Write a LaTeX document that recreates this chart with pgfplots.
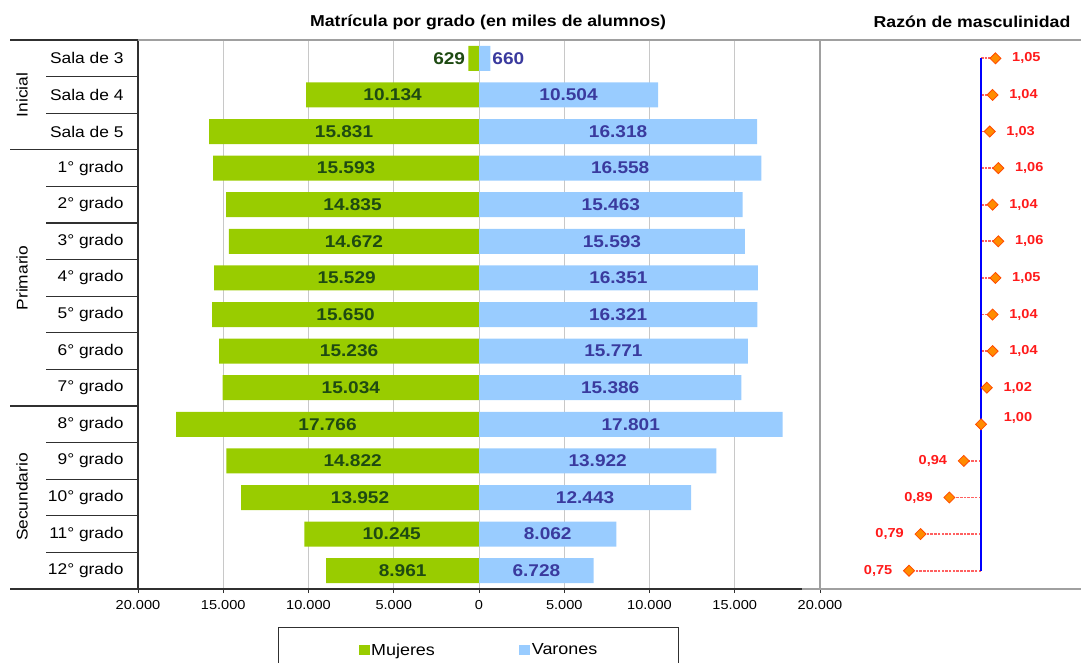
\documentclass[border=0pt]{standalone}
\usepackage{pgfplots}
\pgfplotsset{compat=1.18}
\usepackage{pgfplotstable}
\usepackage{fontspec}
\setmainfont{Liberation Sans}[FakeStretch=1.12]

\definecolor{muj}{HTML}{99CC00}
\definecolor{var}{HTML}{99CCFF}
\definecolor{mujtxt}{HTML}{1E4A12}
\definecolor{vartxt}{HTML}{3A3A9E}
\definecolor{gridc}{HTML}{C8C8C8}
\definecolor{framec}{HTML}{A0A0A0}
\definecolor{dark}{HTML}{303030}
\definecolor{ratio}{HTML}{FF1A1A}
\definecolor{mk}{HTML}{FF8C00}
\definecolor{mkedge}{HTML}{FF4A00}
\definecolor{dashc}{HTML}{FF6060}

% matricula por grado: M = mujeres, H = varones
\pgfplotstableread{
row M H
0 629 660
1 10134 10504
2 15831 16318
3 15593 16558
4 14835 15463
5 14672 15593
6 15529 16351
7 15650 16321
8 15236 15771
9 15034 15386
10 17766 17801
11 14822 13922
12 13952 12443
13 10245 8062
14 8961 6728
}\matricula

% razon de masculinidad
\pgfplotstableread{
row r
0 1.05
1 1.04
2 1.03
3 1.06
4 1.04
5 1.06
6 1.05
7 1.04
8 1.04
9 1.02
}\razonalta
\pgfplotstableread{
row r
11 0.94
12 0.89
13 0.79
14 0.75
}\razonbaja

\tikzset{
  lbl/.style={font=\bfseries\fontsize{17}{18}\selectfont},
  rz/.style={font=\bfseries\fontsize{13}{14}\selectfont, text=ratio},
}
\pgfplotsset{
  /pgf/number format/assume math mode=true,
  rzmark/.style={only marks, mark=square*, mark size=3.9pt,
    mark options={rotate=45, fill=mk, draw=mkedge, line width=0.8pt},
    nodes near coords, point meta=explicit,
    /pgf/number format/fixed, /pgf/number format/fixed zerofill,
    /pgf/number format/precision=2, /pgf/number format/use comma},
  dashl/.style={dashc, line width=1.8pt, dash pattern=on 2.5pt off 1.2pt},
}

\begin{document}
\begin{tikzpicture}
\useasboundingbox (0pt,0pt) rectangle (1081pt,-662pt);

\begin{axis}[
  at={(138pt,-589pt)}, anchor=south west,
  width=682pt, height=549pt, scale only axis,
  xmin=-20000, xmax=20000, ymin=-0.5, ymax=14.5, y dir=reverse,
  axis x line*=bottom, axis y line*=left,
  axis line style={dark, line width=1.3pt},
  scaled x ticks=false,
  xtick={-20000,-15000,...,20000},
  xticklabels={20.000,15.000,10.000,5.000,0,5.000,10.000,15.000,20.000},
  xticklabel style={font=\fontsize{13}{14}\selectfont, yshift=-4pt},
  xmajorgrids, grid style={gridc, line width=1pt},
  tick align=outside, major tick length=4pt,
  xtick style={dark, line width=1pt},
  ytick={0,...,14},
  yticklabels={Sala de 3,Sala de 4,Sala de 5,1° grado,2° grado,3° grado,4° grado,5° grado,6° grado,7° grado,8° grado,9° grado,10° grado,11° grado,12° grado},
  ytick style={draw=none},
  yticklabel style={font=\fontsize{15.5}{17}\selectfont, xshift=-7pt},
  clip=false,
  /pgf/number format/1000 sep={.},
  legend columns=2,
  legend style={at={(0.2053,-0.0692)}, anchor=north west, draw=dark, line width=1.3pt,
    inner xsep=80pt, inner ysep=14pt, font=\fontsize{16}{18}\selectfont,
    /tikz/every even column/.append style={column sep=83pt},
    nodes={inner xsep=1.5pt}},
]
\addplot[xbar, bar width=25pt, bar shift=0pt, fill=muj, draw=none,
  legend image code/.code={\fill[muj] (0pt,-5pt) rectangle (11pt,5pt);}]
  table[x expr=-\thisrow{M}, y=row]{\matricula};
\addlegendentry{Mujeres}
\addplot[xbar, bar width=25pt, bar shift=0pt, fill=var, draw=none,
  legend image code/.code={\fill[var] (0pt,-5pt) rectangle (11pt,5pt);}]
  table[x=H, y=row]{\matricula};
\addlegendentry{Varones}

% etiquetas centradas en las barras
\addplot[draw=none, mark=none, forget plot, nodes near coords, point meta=explicit,
  skip coords between index={0}{1},
  nodes near coords style={lbl, anchor=center, text=mujtxt}]
  table[x expr=-\thisrow{M}/2, y=row, meta=M]{\matricula};
\addplot[draw=none, mark=none, forget plot, nodes near coords, point meta=explicit,
  skip coords between index={0}{1},
  nodes near coords style={lbl, anchor=center, text=vartxt}]
  table[x expr=\thisrow{H}/2, y=row, meta=H]{\matricula};
% Sala de 3: etiquetas fuera de la barra
\addplot[draw=none, mark=none, forget plot, nodes near coords, point meta=explicit,
  nodes near coords style={lbl, anchor=east, text=mujtxt, inner xsep=3pt}]
  coordinates {(-629,0) [629]};
\addplot[draw=none, mark=none, forget plot, nodes near coords, point meta=explicit,
  nodes near coords style={lbl, anchor=west, text=vartxt, inner xsep=2pt}]
  coordinates {(660,0) [660]};
\end{axis}

\begin{axis}[
  at={(820pt,-589pt)}, anchor=south west,
  width=261pt, height=549pt, scale only axis,
  xmin=0.441, xmax=1.347, ymin=-0.5, ymax=14.5, y dir=reverse,
  axis lines=none, clip=false,
]
\addplot[dashl] coordinates {(1,0) (1.05,0)};
\addplot[dashl] coordinates {(1,1) (1.04,1)};
\addplot[dashl] coordinates {(1,2) (1.03,2)};
\addplot[dashl] coordinates {(1,3) (1.06,3)};
\addplot[dashl] coordinates {(1,4) (1.04,4)};
\addplot[dashl] coordinates {(1,5) (1.06,5)};
\addplot[dashl] coordinates {(1,6) (1.05,6)};
\addplot[dashl] coordinates {(1,7) (1.04,7)};
\addplot[dashl] coordinates {(1,8) (1.04,8)};
\addplot[dashl] coordinates {(1,9) (1.02,9)};
\addplot[dashl] coordinates {(1,11) (0.94,11)};
\addplot[dashl] coordinates {(1,12) (0.89,12)};
\addplot[dashl] coordinates {(1,13) (0.79,13)};
\addplot[dashl] coordinates {(1,14) (0.75,14)};
\addplot[blue, line width=2.6pt] coordinates {(1,0) (1,14)};
\addplot[rzmark, nodes near coords style={rz, anchor=west, xshift=13pt}]
  table[x=r, y=row, meta=r]{\razonalta};
\addplot[rzmark, nodes near coords style={rz, anchor=west, xshift=19pt, yshift=6pt}]
  coordinates {(1.00,10) [1.00]};
\addplot[rzmark, nodes near coords style={rz, anchor=east, xshift=-13pt}]
  table[x=r, y=row, meta=r]{\razonbaja};
\end{axis}

% marco y separadores
\draw[framec, line width=1.5pt] (138pt,-40pt) -- (1081pt,-40pt);
\draw[framec, line width=1.5pt] (820pt,-40pt) -- (820pt,-589pt);
\draw[framec, line width=1.5pt] (802pt,-589pt) -- (1081pt,-589pt);
\draw[dark, line width=1.3pt] (10pt,-40pt) -- (138pt,-40pt);
\draw[dark, line width=1.3pt] (10pt,-589pt) -- (138pt,-589pt);
\foreach \k in {1,2,4,5,6,7,8,9,11,12,13,14}
  \draw[dark, line width=1.3pt] (46pt,{-40pt-\k*36.6pt}) -- (138pt,{-40pt-\k*36.6pt});
\foreach \k in {3,10}
  \draw[dark, line width=1.3pt] (10pt,{-40pt-\k*36.6pt}) -- (138pt,{-40pt-\k*36.6pt});
\node[rotate=90, font=\fontsize{15.5}{17}\selectfont] at (22pt,-95pt) {Inicial};
\node[rotate=90, font=\fontsize{15.5}{17}\selectfont] at (22pt,-278pt) {Primario};
\node[rotate=90, font=\fontsize{15.5}{17}\selectfont] at (22pt,-497pt) {Secundario};

\node[font=\bfseries\fontsize{15.8}{17}\selectfont] at (488pt,-22pt) {Matrícula por grado (en miles de alumnos)};
\node[font=\bfseries\fontsize{15.8}{17}\selectfont] at (972pt,-22pt) {Razón de masculinidad};
\end{tikzpicture}
\end{document}
